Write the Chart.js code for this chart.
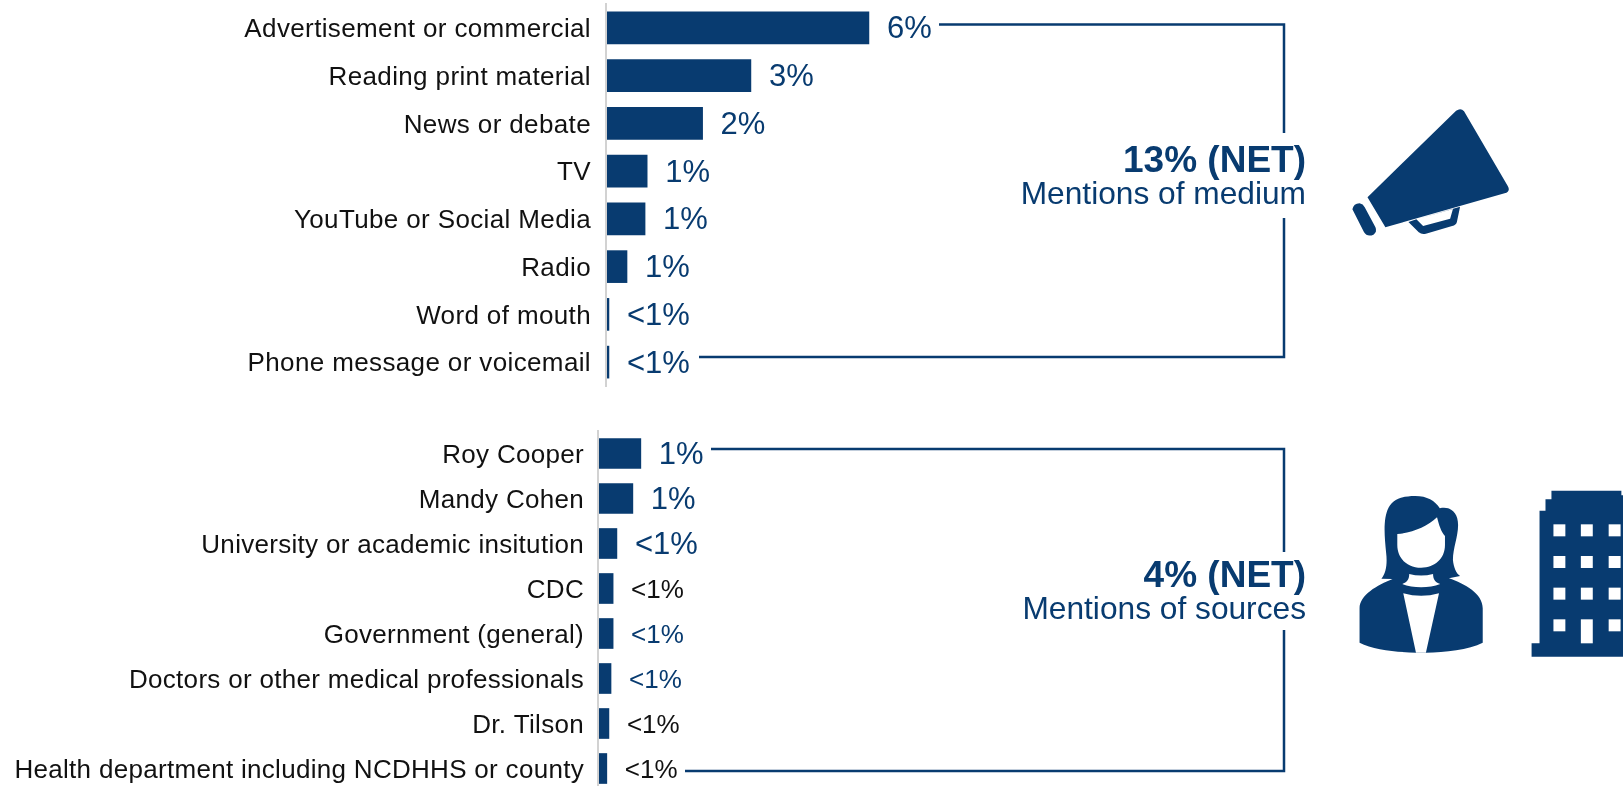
<!DOCTYPE html>
<html>
<head>
<meta charset="utf-8">
<title>Mentions of medium and sources</title>
<script src="https://cdn.jsdelivr.net/npm/chart.js@4"></script>
<style>
  html, body { margin: 0; padding: 0; width: 1623px; height: 786px; overflow: hidden; background: #fff; }
  canvas { position: absolute; left: 0; }
  #mediumChart { top: 0; }
  #sourceChart { top: 429px; }
  #overlay { position: absolute; left: 0; top: 0; }
  #overlay text { font-family: "Liberation Sans", Arial, sans-serif; fill: #083b70; text-anchor: end; }
</style>
</head>
<body>
<canvas id="mediumChart" width="1026" height="390"></canvas>
<canvas id="sourceChart" width="1018" height="362"></canvas>

<svg id="overlay" width="1623" height="786" viewBox="0 0 1623 786">
  <!-- brackets -->
  <g fill="none" stroke="#083b70" stroke-width="2.5">
    <path d="M939 24.5H1284V133"/>
    <path d="M1284 218V357H699"/>
    <path d="M711 449H1284V552"/>
    <path d="M1284 630V771H685"/>
  </g>

  <text x="1306" y="172" font-size="37" font-weight="bold">13% (NET)</text>
  <text x="1306" y="204" font-size="31.7">Mentions of medium</text>
  <text x="1306" y="587" font-size="37" font-weight="bold">4% (NET)</text>
  <text x="1306" y="619" font-size="31.7">Mentions of sources</text>

  <!-- megaphone -->
  <g transform="translate(1000,90) scale(0.3973,0.3333)" fill="#083b70">
    <path d="M1148 62Q1160 52 1168 64L1278 288Q1286 304 1270 310L970 412L925 322Z"/>
    <path fill-rule="evenodd" d="M1028 396L1048 388L1158 350L1150 396Q1148 405 1138 408L1072 431Q1062 435 1054 427ZM1048 388L1065 408L1133 386L1140 357Z"/>
    <path d="M905 340Q890 340 887 358L916 426Q924 442 940 434Q950 426 945 412L918 352Q914 342 905 340Z"/>
  </g>

  <!-- woman -->
  <g transform="translate(1000,480) scale(0.3973,0.3333)">
    <path fill="#083b70" d="M968 150C968 80 985 48 1045 48C1075 48 1095 62 1107 85C1135 78 1153 98 1153 135C1153 170 1140 205 1140 240C1142 262 1148 280 1158 288L1130 295C1170 312 1215 340 1215 385V488C1180 510 1120 516 1072 518L1047 518C1000 516 940 510 905 488V385C905 345 950 315 988 297L960 296C972 280 975 250 972 220C970 195 968 170 968 150Z"/>
    <path fill="#fff" d="M1000 162C1040 158 1075 140 1100 112C1105 135 1110 155 1120 168V195C1120 235 1095 263 1060 263C1025 263 1000 235 1000 195Z"/>
    <path fill="#fff" d="M1030 282C1050 288 1070 288 1090 282C1090 297 1095 307 1108 312C1080 325 1040 325 1012 312C1025 307 1030 297 1030 282Z"/>
    <path fill="#fff" d="M1015 340C1045 350 1075 350 1105 340L1072 518H1047Z"/>
  </g>

  <!-- building -->
  <g transform="translate(1000,480) scale(0.3973,0.3333)">
    <path fill="#083b70" d="M1338 530V490H1358V92H1373V58H1388V32H1564V46H1570V530Z"/>
    <g fill="#fff">
      <rect x="1393" y="133" width="30" height="36"/><rect x="1462" y="133" width="30" height="36"/><rect x="1532" y="133" width="30" height="36"/>
      <rect x="1393" y="228" width="30" height="36"/><rect x="1462" y="228" width="30" height="36"/><rect x="1532" y="228" width="30" height="36"/>
      <rect x="1393" y="323" width="30" height="36"/><rect x="1462" y="323" width="30" height="36"/><rect x="1532" y="323" width="30" height="36"/>
      <rect x="1393" y="418" width="30" height="36"/><rect x="1462" y="418" width="30" height="72"/><rect x="1532" y="418" width="30" height="36"/>
    </g>
  </g>
</svg>

<script>
const NAVY = "#083b70";

const mediumCategories = [
  "Advertisement or commercial",
  "Reading print material",
  "News or debate",
  "TV",
  "YouTube or Social Media",
  "Radio",
  "Word of mouth",
  "Phone message or voicemail"
];
const mediumValues = [6.26, 3.45, 2.3, 0.98, 0.93, 0.5, 0.07, 0.07];
const mediumLabels = ["6%", "3%", "2%", "1%", "1%", "1%", "<1%", "<1%"];

const sourceCategories = [
  "Roy Cooper",
  "Mandy Cohen",
  "University or academic insitution",
  "CDC",
  "Government (general)",
  "Doctors or other medical professionals",
  "Dr. Tilson",
  "Health department including NCDHHS or county"
];
const sourceValues = [1.02, 0.83, 0.45, 0.36, 0.36, 0.31, 0.26, 0.21];
const sourceLabels = ["1%", "1%", "<1%", "<1%", "<1%", "<1%", "<1%", "<1%"];

// value labels next to the bars, drawn from each bar's own position
const barLabels = {
  id: "barLabels",
  beforeDraw(chart, args, opts) {
    chart.ctx.letterSpacing = opts.tickSpacing;
    // tick text sits a little under the bar centre in the original
    chart.scales.y.getLabelItems().forEach(item => {
      item.options.translation[1] += opts.tickShift;
    });
  },
  afterDatasetsDraw(chart, args, opts) {
    const ctx = chart.ctx;
    ctx.save();
    ctx.letterSpacing = "0px";
    ctx.textAlign = "left";
    ctx.textBaseline = "middle";
    chart.getDatasetMeta(0).data.forEach((bar, i) => {
      ctx.font = opts.size(i) + 'px "Liberation Sans", Arial, sans-serif';
      ctx.fillStyle = opts.color(i);
      ctx.fillText(opts.text[i], bar.x + 18, bar.y + 2);
    });
    ctx.restore();
  }
};

function drawBars(id, categories, values, labels, axisX, barHeight, labelOpts) {
  return new Chart(document.getElementById(id), {
    type: "bar",
    data: {
      labels: categories,
      datasets: [{ data: values, backgroundColor: NAVY, barThickness: barHeight }]
    },
    options: {
      indexAxis: "y",
      responsive: false,
      animation: false,
      layout: { padding: labelOpts.padding },
      plugins: {
        legend: { display: false },
        tooltip: { enabled: false },
        barLabels: {
          text: labels,
          size: labelOpts.size,
          color: labelOpts.color,
          tickSpacing: labelOpts.tickSpacing,
          tickShift: labelOpts.tickShift
        }
      },
      scales: {
        x: { display: false, min: 0, max: 10 },
        y: {
          // keep the plot edges where they are, the tick text would push them in
          afterFit: s => { s.width = axisX; s.paddingTop = 0; s.paddingBottom = 0; },
          grid: { display: false },
          border: { color: "#d2d2d2", width: 2, z: 1 },
          ticks: {
            color: "#111",
            padding: labelOpts.tickPadding,
            autoSkip: false,
            font: { family: '"Liberation Sans", Arial, sans-serif', size: 26 }
          }
        }
      }
    },
    plugins: [barLabels]
  });
}

drawBars("mediumChart", mediumCategories, mediumValues, mediumLabels, 606, 32, {
  padding: { top: 4, bottom: 4 },
  tickPadding: 7,
  tickSpacing: "0.37px",
  tickShift: 2,
  size: () => 31,
  color: () => NAVY
});

drawBars("sourceChart", sourceCategories, sourceValues, sourceLabels, 598, 30, {
  padding: { top: 2, bottom: 0 },
  tickPadding: 6,
  tickSpacing: "0.3px",
  tickShift: 2,
  size: i => (i < 3 ? 31 : 26),
  color: i => ([3, 6, 7].includes(i) ? "#111" : NAVY)
});
</script>
</body>
</html>
